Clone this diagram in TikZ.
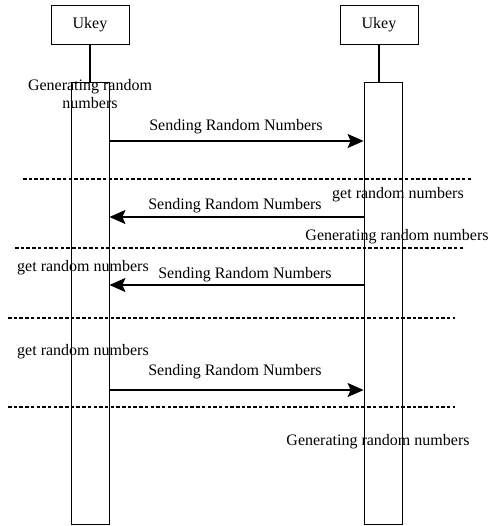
\documentclass[tikz,border=0pt]{standalone}
\usepackage{fontspec}
\setmainfont{Liberation Serif}
\usetikzlibrary{arrows.meta}
\begin{document}
\begin{tikzpicture}[x=1pt,y=-1pt,
  every node/.style={font=\fontsize{16}{18}\selectfont, inner sep=0pt},
  actor/.style={draw, line width=0.8pt, minimum width=78pt, minimum height=39pt},
  activation/.style={draw, line width=0.8pt, minimum width=38pt},
  lifeline/.style={line width=1.8pt},
  msg/.style={line width=1.8pt, -{Stealth[length=16pt,width=14pt,inset=3pt]}},
  divider/.style={line width=1.4pt, dash pattern=on 3.5pt off 2.2pt},
  note/.style={align=center}]
\useasboundingbox (0,0) rectangle (489,526);

% participants
\node[actor] (ukeyA) at (90,24.5) {Ukey};
\node[actor] (ukeyB) at (379,24.5) {Ukey};

% activation bars
\node[activation, minimum height=442pt] (barA) at (90,303) {};
\node[activation, minimum height=442pt] (barB) at (383,303) {};

% lifelines into the bars
\draw[lifeline] (ukeyA.south) -- (ukeyA.south |- barA.north);
\draw[lifeline] (ukeyB.south) -- (ukeyB.south |- barB.north);

% section dividers
\coordinate (d1a) at (23,179);  \coordinate (d1b) at (472,179);
\coordinate (d2a) at (15,248);  \coordinate (d2b) at (463,248);
\coordinate (d3a) at (8,318);   \coordinate (d3b) at (455,318);
\coordinate (d4a) at (8,407);   \coordinate (d4b) at (455,407);
\draw[divider] (d1a) -- (d1b);
\draw[divider] (d2a) -- (d2b);
\draw[divider] (d3a) -- (d3b);
\draw[divider] (d4a) -- (d4b);

% message heights
\coordinate (m1) at (0,141);
\coordinate (m2) at (0,217);
\coordinate (m3) at (0,285);
\coordinate (m4) at (0,390);

% messages
\draw[msg] (barA.east |- m1) -- (barB.west |- m1);
\draw[msg] (barB.west |- m2) -- (barA.east |- m2);
\draw[msg] (barB.west |- m3) -- (barA.east |- m3);
\draw[msg] (barA.east |- m4) -- (barB.west |- m4);

% message labels
\node (l1) at (236,127) {Sending Random Numbers};
\node (l2) at (235,206) {Sending Random Numbers};
\node (l3) at (245,275) {Sending Random Numbers};
\node (l4) at (235,372) {Sending Random Numbers};

% notes
\node[note] (n1) at (90,94) {Generating random\\numbers};
\node (n2) at (398,195) {get random numbers};
\node (n3) at (397,237) {Generating random numbers};
\node (n4) at (83,268) {get random numbers};
\node (n5) at (83,352) {get random numbers};
\node (n6) at (378,442) {Generating random numbers};
\end{tikzpicture}
\end{document}
